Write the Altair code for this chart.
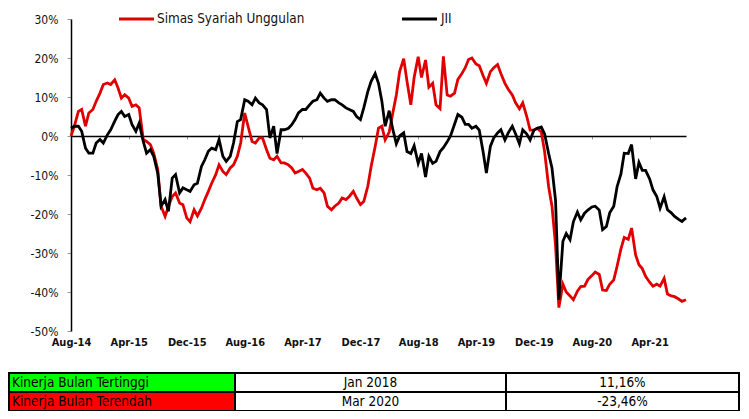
import altair as alt
import pandas as pd

# ---- data (cumulative return, %), semi-monthly readings from Aug-2014 ----
simas = [
    0.0, 2.5, 6.3, 6.8, 2.5, 5.9, 6.8, 8.9, 11.0, 13.2,
    13.6, 13.2, 14.4, 12.3, 9.7, 10.6, 9.7, 7.6, 8.0, 7.2,
    -0.9, -1.4, -2.2, -4.4, -8.6, -18.0, -20.6, -18.0, -15.5, -14.6,
    -17.2, -17.6, -21.0, -22.0, -18.9, -20.5, -18.5, -16.3, -14.2, -12.1,
    -9.9, -7.4, -9.1, -9.9, -8.2, -7.4, -5.2, -1.8, 5.9, 2.5,
    -1.4, -1.8, -0.5, -0.5, -3.5, -5.7, -6.1, -5.2, -6.9, -6.9,
    -7.4, -8.2, -9.5, -9.1, -8.6, -9.5, -10.8, -13.4, -13.8, -13.4,
    -14.6, -18.0, -18.9, -18.0, -17.2, -15.9, -16.3, -15.5, -14.2, -15.9,
    -17.6, -16.8, -12.9, -7.8, -2.7, 2.0, 2.5, -1.0, 1.0, 5.5,
    10.5, 16.5, 19.8, 14.0, 8.0, 15.0, 20.3, 15.0, 19.5, 12.5,
    13.5, 8.0, 7.0, 20.4, 10.5, 10.2, 11.0, 14.5, 16.0, 17.5,
    19.6, 20.0, 18.5, 18.0, 15.5, 13.5, 16.5, 17.5, 18.3, 16.0,
    13.5, 12.0, 10.5, 8.5, 7.0, 8.5, 5.0, 1.5, 1.5, 2.0,
    1.0, -4.0, -13.0, -18.0, -28.0, -44.0, -38.0, -40.0, -41.0, -42.0,
    -39.8, -38.6, -38.5, -36.8, -35.8, -34.9, -35.5, -39.5, -39.6, -38.0,
    -36.9, -33.4, -29.0, -26.0, -26.5, -23.6, -30.5, -33.0, -34.0, -36.0,
    -37.5, -38.5, -38.0, -38.5, -36.5, -40.5, -41.0, -41.2, -41.8, -42.4,
    -42.0,
]
jii = [
    2.0, 2.5, 2.5, 1.2, -3.1, -4.4, -4.4, -1.8, -0.9, -1.8,
    0.3, 1.6, 3.8, 5.5, 6.3, 5.0, 5.5, 2.9, 1.2, 3.3,
    -1.4, -4.4, -3.5, -5.2, -9.5, -18.0, -16.3, -19.3, -10.8, -9.9,
    -14.6, -13.3, -13.8, -14.2, -12.5, -12.1, -7.8, -6.1, -3.9, -3.1,
    -3.5, -0.9, -5.2, -6.5, -5.2, -1.8, 3.7, 4.2, 9.3, 8.9,
    8.0, 9.7, 8.5, 8.0, 6.8, -0.5, 2.5, -4.5, 1.6, 1.6,
    2.0, 2.9, 4.2, 5.9, 6.8, 6.8, 8.0, 8.9, 9.3, 11.0,
    9.7, 8.9, 9.3, 9.3, 8.5, 8.0, 7.2, 6.8, 6.3, 5.0,
    4.2, 7.2, 11.4, 14.0, 16.0, 13.5, 9.0, 2.5, 6.5, 2.0,
    -2.0, 0.0, 0.8, -4.0, -4.5, -2.5, -7.0, -4.5, -10.5, -5.2,
    -7.0, -6.5, -4.0, -3.0, -1.5, 0.0, 3.0, 5.5, 4.8, 3.0,
    3.0, 2.0, 2.5, 1.5, -4.0, -9.5, -2.6, -0.5, 0.8, 1.6,
    -1.0, 0.8, 2.5, 0.5, -2.0, 1.6, 0.5, -1.0, 1.5, 2.0,
    2.3, 0.5, -4.5, -8.2, -16.5, -42.0, -27.0, -25.0, -26.6, -22.0,
    -19.5, -21.5, -19.8, -19.0, -18.2, -18.0, -19.0, -24.0, -23.2, -19.7,
    -18.0, -13.0, -9.8, -4.4, -4.5, -2.2, -11.0, -6.8, -8.8, -8.8,
    -11.0, -13.8, -15.5, -18.5, -15.6, -18.9, -19.7, -20.6, -21.4, -21.9,
    -21.0,
]
series_names = ["Simas Syariah Unggulan", "JII"]
series_colors = ["#E00000", "#000000"]
start_date = "2014-08-01"
tick_dates = [(2014, 8), (2015, 4), (2015, 12), (2016, 8), (2017, 4), (2017, 12),
              (2018, 8), (2019, 4), (2019, 12), (2020, 8), (2021, 4)]
y_ticks = [-50, -40, -30, -20, -10, 0, 10, 20, 30]

table_labels = ["Kinerja Bulan Tertinggi", "Kinerja Bulan Terendah"]
table_months = ["Jan 2018", "Mar 2020"]
table_values = ["11,16%", "-23,46%"]
table_colors = ["#00FF00", "#FF0000"]

FONT = "DejaVu Sans Condensed, DejaVu Sans"

dates = pd.date_range(start_date, periods=len(simas), freq="SMS")
df = pd.DataFrame({"date": dates, series_names[0]: simas, series_names[1]: jii})
df = df.melt("date", var_name="series", value_name="ret")

W, H = 615, 312

x_enc = alt.X(
    "date:T",
    scale=alt.Scale(domain=[alt.DateTime(year=2014, month=8, date=1),
                            alt.DateTime(year=2021, month=9, date=1)]),
    axis=alt.Axis(
        values=[alt.DateTime(year=y, month=m, date=1) for y, m in tick_dates],
        format="%b-%y", title=None, offset=-195,
        domainColor="#000000", domainWidth=1.5,
        tickColor="#999999", tickSize=3, tickWidth=1,
        labelFont=FONT, labelFontWeight="bold", labelFontSize=11, labelColor="#111111",
        labelPadding=197, labelFlush=False, labelOverlap=False, grid=False,
    ),
)
y_enc = alt.Y(
    "ret:Q",
    scale=alt.Scale(domain=[-50, 30], nice=False, zero=False),
    axis=alt.Axis(
        values=y_ticks, labelExpr="datum.value + '%'", title=None,
        domainColor="#000000", domainWidth=1.5,
        tickColor="#999999", tickSize=4, tickWidth=1,
        labelFont=FONT, labelFontSize=12, labelColor="#111111", labelPadding=9,
        grid=False,
    ),
)

layers = []
for name, col in zip(series_names, series_colors):
    layers.append(
        alt.Chart(df).mark_line(color=col, strokeWidth=2.8)
        .encode(x=x_enc, y=y_enc)
        .transform_filter(alt.datum.series == name)
    )

# manual legend
leg_pos = [(48, 83, 86), (331, 366, 370)]
for name, col, (x1, x2, xt) in zip(series_names, series_colors, leg_pos):
    ld = pd.DataFrame({"name": [name]})
    layers.append(alt.Chart(ld).mark_rule(color=col, strokeWidth=3).encode(
        x=alt.value(x1), x2=alt.value(x2), y=alt.value(0)))
    layers.append(alt.Chart(ld).mark_text(align="left", baseline="middle", font=FONT,
                                          fontSize=13.4, color="#111111").encode(
        x=alt.value(xt), y=alt.value(0), text="name:N"))

# table below the chart
row_top = [354, 373]
row_h = 19
cols = [(-62, 164), (164, 435), (435, 668)]
for i in range(len(table_labels)):
    td = pd.DataFrame({"label": [table_labels[i]], "month": [table_months[i]],
                       "val": [table_values[i]]})
    fills = [table_colors[i], "#FFFFFF", "#FFFFFF"]
    for (cx1, cx2), f in zip(cols, fills):
        layers.append(alt.Chart(td).mark_rect(fill=f, stroke="#000000", strokeWidth=2).encode(
            x=alt.value(cx1), x2=alt.value(cx2),
            y=alt.value(row_top[i]), y2=alt.value(row_top[i] + row_h)))
    yc = row_top[i] + row_h / 2 + 0.5
    layers.append(alt.Chart(td).mark_text(align="left", baseline="middle", font=FONT,
                                          fontSize=13.5, color="#000000").encode(
        x=alt.value(-59), y=alt.value(yc), text="label:N"))
    layers.append(alt.Chart(td).mark_text(align="center", baseline="middle", font=FONT,
                                          fontSize=13.5, color="#000000").encode(
        x=alt.value((cols[1][0] + cols[1][1]) / 2), y=alt.value(yc), text="month:N"))
    layers.append(alt.Chart(td).mark_text(align="center", baseline="middle", font=FONT,
                                          fontSize=13.5, color="#000000").encode(
        x=alt.value((cols[2][0] + cols[2][1]) / 2), y=alt.value(yc), text="val:N"))

chart = alt.layer(*layers).properties(
    width=W, height=H,
    autosize=alt.AutoSizeParams(type="none"),
    padding={"left": 63, "top": 11, "right": 55, "bottom": 80},
).configure_view(stroke=None)

chart.save("out.html", embed_options={"renderer": "svg", "actions": False})
